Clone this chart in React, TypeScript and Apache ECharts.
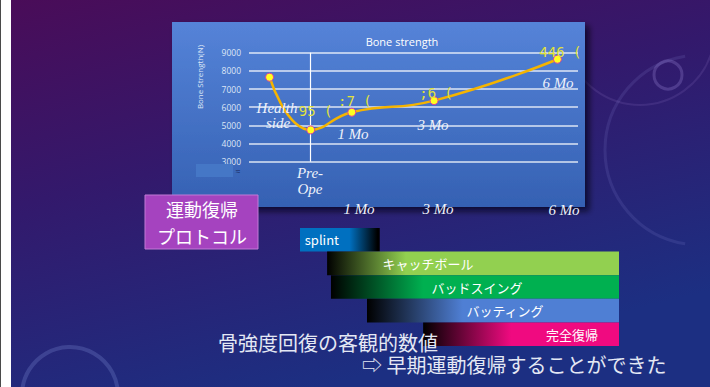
import React, { useEffect, useRef } from "react";
import * as echarts from "echarts";

// Bone strength chart data (x = months after surgery, Health side drawn at -1)
const months = [-1, 0, 1, 3, 6];
const strength = [7650, 4750, 5720, 6360, 8640];
const pointLabels = ["", "95 (", ":7 (", ";6 (", "446 ("];
const yMin = 3000;
const yMax = 9000;
const yStep = 1000;

// Rehabilitation protocol (timeline units 0..100)
const phases = ["splint", "キャッチボール", "バッドスイング", "バッティング", "完全復帰"];
const phaseStart = [0, 8.5, 9.7, 21, 38.6];
const phaseEnd = [25, 100, 100, 100, 100];
const phaseColors = ["#0070c0", "#92d050", "#00b050", "#4f7fd4", "#f00a80"];

const labelOffsets = [[0, 0], [5, -19], [3, -11], [2, -8], [3, -7]];
const phaseLabelOffsets = [[-18, 0], [-45, 0], [2, 0], [12, 0], [51, 0]];

function phaseGradient(i: number) {
  const c = phaseColors[i];
  if (i === 0) {
    return new echarts.graphic.LinearGradient(0, 0, 1, 0, [
      { offset: 0, color: c },
      { offset: 0.62, color: c },
      { offset: 0.97, color: "#000000" },
      { offset: 1, color: "#000000" },
    ]);
  }
  const stops = [0, 0.27, 0.32, 0.38, 0.45];
  return new echarts.graphic.LinearGradient(0, 0, 1, 0, [
    { offset: 0, color: "#000000" },
    { offset: stops[i], color: c },
    { offset: 1, color: c },
  ]);
}

export default function App() {
  const ref = useRef<HTMLDivElement>(null);
  useEffect(() => {
    if (!ref.current) return;
    const chart = echarts.init(ref.current, undefined, { renderer: "svg" });
    const serif = {
      fontFamily: "Liberation Serif",
      fontStyle: "italic",
      fontSize: 15,
      fill: "#eef2fa",
      align: "center",
      verticalAlign: "middle",
    } as any;
    const serifText = (text: string, x: number, y: number) => ({
      type: "text",
      x,
      y,
      z: 50,
      style: { ...serif, text },
    });
    const option: any = {
      animation: false,
      backgroundColor: new echarts.graphic.LinearGradient(0, 0, 0.45, 1, [
        { offset: 0, color: "#4a0c58" },
        { offset: 0.45, color: "#33196c" },
        { offset: 1, color: "#1c2f82" },
      ]),
      grid: [
        { left: 249, right: 132, top: 52.7, bottom: 225.3 },
        { left: 300, right: 91, top: 228, height: 118 },
      ],
      xAxis: [
        { gridIndex: 0, type: "value", min: -1.5, max: 6.5, show: false },
        { gridIndex: 1, type: "value", min: 0, max: 100, show: false },
      ],
      yAxis: [
        {
          gridIndex: 0,
          type: "value",
          min: yMin,
          max: yMax,
          interval: yStep,
          axisLine: { show: false },
          axisTick: { show: false },
          axisLabel: {
            color: "#dde6f6",
            fontSize: 8.5,
            margin: 8,
            fontFamily: "Open Sans",
            formatter: (v: number) => String(v),
          },
          splitLine: { lineStyle: { color: "rgba(255,255,255,0.82)", width: 1.6 } },
        },
        {
          gridIndex: 1,
          type: "category",
          data: phases,
          inverse: true,
          show: false,
        },
      ],
      series: [
        {
          type: "line",
          xAxisIndex: 0,
          yAxisIndex: 0,
          smooth: 0.5,
          data: months.map((m, i) => ({
            value: [m, strength[i]],
            label: { offset: labelOffsets[i] },
          })),
          lineStyle: { color: "#f5b400", width: 2.5 },
          symbol: "circle",
          symbolSize: 8,
          itemStyle: { color: "#ffff20", borderColor: "#e0409a", borderWidth: 1 },
          label: {
            show: true,
            position: "inside",
            formatter: (p: any) => pointLabels[p.dataIndex],
            color: "#e2e23a",
            fontSize: 14,
            fontFamily: "DejaVu Sans Mono",
          },
          markLine: {
            silent: true,
            symbol: "none",
            label: { show: false },
            lineStyle: { color: "#ffffff", width: 1.2, type: "solid" },
            data: [{ xAxis: 0 }],
          },
          z: 5,
        },
        {
          type: "bar",
          xAxisIndex: 1,
          yAxisIndex: 1,
          stack: "phase",
          barWidth: "100%",
          silent: true,
          itemStyle: { color: "transparent" },
          data: phaseStart,
        },
        {
          type: "bar",
          xAxisIndex: 1,
          yAxisIndex: 1,
          stack: "phase",
          barWidth: "100%",
          data: phaseStart.map((s, i) => ({
            value: phaseEnd[i] - s,
            itemStyle: { color: phaseGradient(i) },
            label: { offset: phaseLabelOffsets[i] },
          })),
          label: {
            show: true,
            position: "inside",
            formatter: (p: any) => phases[p.dataIndex],
            color: "#ffffff",
            fontSize: 13,
            fontFamily: "Noto Sans CJK JP",
          },
        },
      ],
      graphic: [
        // decorative faint rings
        { type: "circle", z: -20, shape: { cx: 70, cy: 395, r: 48 }, style: { fill: "none", stroke: "rgba(150,170,235,0.22)", lineWidth: 4 } },
        { type: "circle", z: -20, shape: { cx: 668, cy: 75, r: 14 }, style: { fill: "none", stroke: "rgba(170,150,230,0.25)", lineWidth: 3 } },
        { type: "arc", z: -20, shape: { cx: 700, cy: 150, r: 95, startAngle: Math.PI * 0.55, endAngle: Math.PI * 1.45 }, style: { fill: "none", stroke: "rgba(150,150,230,0.14)", lineWidth: 3 } },
        { type: "arc", z: -20, shape: { cx: 640, cy: 30, r: 75, startAngle: Math.PI * 0.1, endAngle: Math.PI * 0.9 }, style: { fill: "none", stroke: "rgba(170,140,220,0.14)", lineWidth: 2 } },
        // chart panel
        {
          type: "rect",
          z: -10,
          shape: { x: 172, y: 22, width: 413, height: 185 },
          style: {
            fill: new echarts.graphic.LinearGradient(0, 0, 0, 1, [
              { offset: 0, color: "#5583d8" },
              { offset: 1, color: "#3561b3" },
            ]),
            shadowBlur: 6,
            shadowColor: "rgba(0,0,20,0.7)",
            shadowOffsetX: 4,
            shadowOffsetY: 4,
          },
        },
        {
          type: "text",
          z: 50,
          x: 402,
          y: 41,
          style: { text: "Bone strength", fill: "#ffffff", fontSize: 11, fontFamily: "Open Sans", align: "center", verticalAlign: "middle" },
        },
        {
          type: "text",
          z: 50,
          x: 199,
          y: 77,
          rotation: Math.PI / 2,
          style: { text: "Bone Strength(N)", fill: "#dde6f6", fontSize: 8, fontFamily: "Open Sans", align: "center", verticalAlign: "middle" },
        },
        { type: "rect", z: 40, shape: { x: 196, y: 164, width: 37, height: 13 }, style: { fill: "#4577c6" } },
        { type: "text", z: 50, x: 238, y: 171, style: { text: "≈", fill: "#1a2a60", fontSize: 8, align: "center", verticalAlign: "middle" } },
        serifText("Health", 277, 108),
        serifText("side", 278, 123),
        serifText("Pre-", 310, 173),
        serifText("Ope", 310, 189),
        serifText("1 Mo", 353, 134),
        serifText("3 Mo", 433, 125),
        serifText("6 Mo", 558, 83),
        serifText("1 Mo", 359, 209),
        serifText("3 Mo", 438, 209),
        serifText("6 Mo", 564, 210),
        // protocol box
        {
          type: "rect",
          z: 60,
          shape: { x: 145, y: 195, width: 113, height: 54 },
          style: { fill: "#a543bf", stroke: "#c27ad6", lineWidth: 1 },
        },
        {
          type: "text",
          z: 61,
          x: 202,
          y: 209,
          style: { text: "運動復帰", fill: "#ffffff", fontSize: 18, fontFamily: "Noto Sans CJK JP", align: "center", verticalAlign: "middle" },
        },
        {
          type: "text",
          z: 61,
          x: 202,
          y: 236,
          style: { text: "プロトコル", fill: "#ffffff", fontSize: 18, fontFamily: "Noto Sans CJK JP", align: "center", verticalAlign: "middle" },
        },
        // conclusions
        {
          type: "text",
          z: 70,
          x: 218,
          y: 342,
          style: { text: "骨強度回復の客観的数値", fill: "#e4e8f4", fontSize: 20, fontFamily: "Noto Sans CJK JP", align: "left", verticalAlign: "middle" },
        },
        {
          type: "text",
          z: 70,
          x: 362,
          y: 364,
          style: { text: "⇨ 早期運動復帰することができた", fill: "#e4e8f4", fontSize: 20, fontFamily: "Noto Sans CJK JP", align: "left", verticalAlign: "middle" },
        },
        // white strip on the left edge
        { type: "rect", z: 100, shape: { x: 0, y: 0, width: 11, height: 387 }, style: { fill: "#ffffff" } },
        { type: "rect", z: 101, shape: { x: 0, y: 0, width: 1, height: 387 }, style: { fill: "#4a4a4a" } },
      ],
    };
    chart.setOption(option);
    return () => chart.dispose();
  }, []);
  return (
    <div
      ref={ref}
      style={{ position: "fixed", left: 0, top: 0, width: 710, height: 387 }}
    />
  );
}
